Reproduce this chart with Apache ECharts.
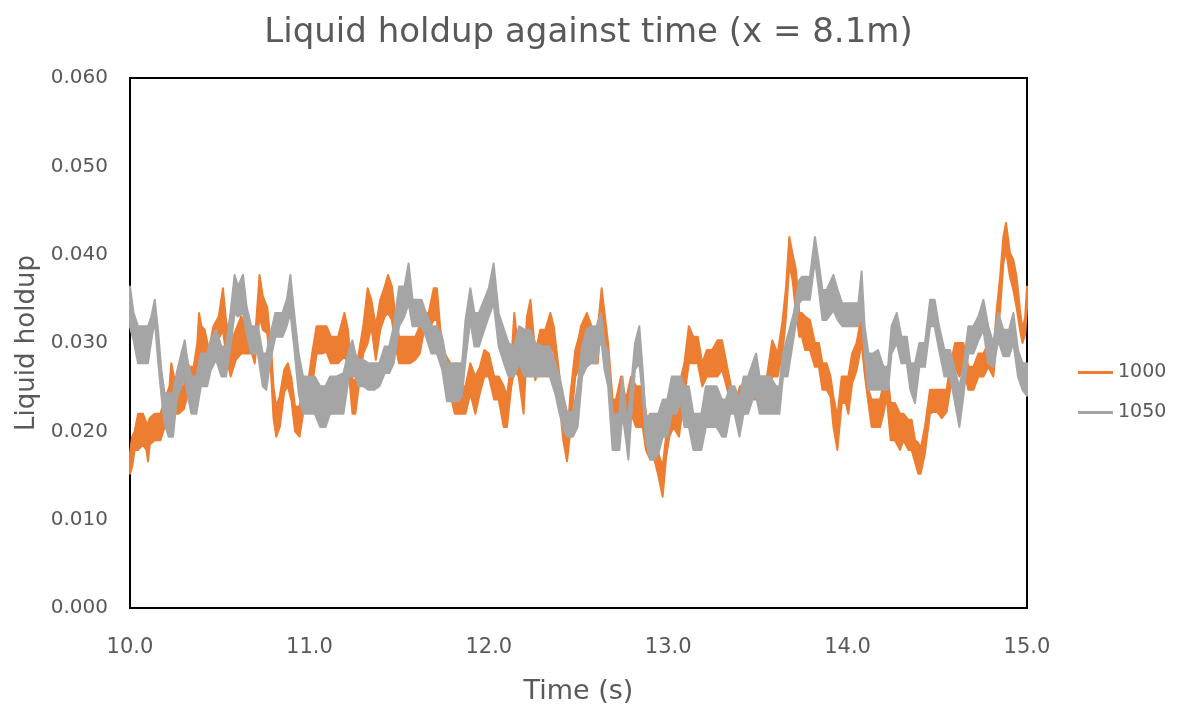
<!DOCTYPE html>
<html>
<head>
<meta charset="utf-8">
<script src="https://cdn.jsdelivr.net/npm/echarts@6/dist/echarts.min.js"></script>
<style>html,body{margin:0;padding:0;background:#fff}#c{width:1177px;height:711px}</style>
</head>
<body>
<div id="c"></div>
<script>
const chartTitle = 'Liquid holdup against time (x = 8.1m)';
const xName = 'Time (s)';
const yName = 'Liquid holdup';
const seriesNames = ['1000', '1050'];
const seriesColors = ['#ED7D31', '#A5A5A5'];

// [time (s), upper edge of the jitter band, lower edge of the jitter band]
const series1000 = [
[10.000,0.0175,0.0152],[10.012,0.0194,0.0160],[10.026,0.0200,0.0179],[10.045,0.0220,0.0179],
[10.072,0.0220,0.0185],[10.092,0.0209,0.0179],[10.100,0.0209,0.0166],[10.110,0.0215,0.0185],
[10.138,0.0220,0.0190],[10.170,0.0220,0.0190],[10.193,0.0236,0.0205],[10.220,0.0251,0.0220],
[10.230,0.0277,0.0228],[10.249,0.0258,0.0220],[10.270,0.0251,0.0220],[10.300,0.0251,0.0225],
[10.330,0.0273,0.0247],[10.355,0.0273,0.0250],[10.375,0.0300,0.0270],[10.385,0.0334,0.0277],
[10.398,0.0319,0.0288],[10.416,0.0315,0.0288],[10.440,0.0292,0.0262],[10.465,0.0319,0.0288],
[10.495,0.0330,0.0305],[10.518,0.0362,0.0315],[10.535,0.0326,0.0288],[10.561,0.0300,0.0262],
[10.590,0.0315,0.0281],[10.620,0.0330,0.0288],[10.650,0.0315,0.0288],[10.680,0.0315,0.0288],
[10.695,0.0300,0.0277],[10.722,0.0377,0.0330],[10.740,0.0353,0.0315],[10.765,0.0340,0.0311],
[10.785,0.0300,0.0270],[10.800,0.0250,0.0215],[10.815,0.0228,0.0194],[10.835,0.0240,0.0205],
[10.860,0.0270,0.0245],[10.880,0.0277,0.0251],[10.900,0.0260,0.0235],[10.920,0.0228,0.0200],
[10.945,0.0228,0.0194],[10.965,0.0251,0.0220],[10.990,0.0251,0.0225],[11.015,0.0288,0.0251],
[11.040,0.0319,0.0288],[11.070,0.0319,0.0288],[11.095,0.0319,0.0290],[11.120,0.0307,0.0277],
[11.160,0.0307,0.0277],[11.195,0.0334,0.0285],[11.215,0.0315,0.0277],[11.240,0.0258,0.0220],
[11.256,0.0258,0.0220],[11.275,0.0288,0.0251],[11.300,0.0319,0.0288],[11.325,0.0362,0.0300],
[11.345,0.0349,0.0319],[11.370,0.0319,0.0281],[11.395,0.0349,0.0315],[11.420,0.0364,0.0330],
[11.438,0.0377,0.0334],[11.460,0.0364,0.0326],[11.480,0.0330,0.0296],[11.500,0.0307,0.0277],
[11.530,0.0307,0.0277],[11.560,0.0307,0.0277],[11.590,0.0307,0.0281],[11.615,0.0319,0.0288],
[11.640,0.0334,0.0315],[11.665,0.0334,0.0315],[11.693,0.0362,0.0326],[11.711,0.0362,0.0326],
[11.730,0.0315,0.0281],[11.755,0.0288,0.0260],[11.785,0.0277,0.0243],[11.810,0.0251,0.0220],
[11.840,0.0251,0.0220],[11.870,0.0251,0.0220],[11.897,0.0277,0.0243],[11.925,0.0262,0.0220],
[11.950,0.0273,0.0243],[11.975,0.0292,0.0262],[12.000,0.0288,0.0262],[12.030,0.0262,0.0236],
[12.055,0.0262,0.0236],[12.083,0.0251,0.0205],[12.101,0.0240,0.0205],[12.125,0.0277,0.0250],
[12.142,0.0334,0.0270],[12.166,0.0288,0.0262],[12.194,0.0270,0.0220],[12.213,0.0330,0.0300],
[12.232,0.0349,0.0319],[12.259,0.0288,0.0258],[12.287,0.0315,0.0277],[12.315,0.0315,0.0277],
[12.343,0.0334,0.0290],[12.362,0.0319,0.0292],[12.390,0.0270,0.0240],[12.415,0.0220,0.0190],
[12.436,0.0190,0.0166],[12.454,0.0240,0.0200],[12.482,0.0292,0.0262],[12.500,0.0305,0.0270],
[12.514,0.0319,0.0262],[12.547,0.0334,0.0307],[12.579,0.0315,0.0277],[12.607,0.0315,0.0277],
[12.629,0.0362,0.0334],[12.645,0.0334,0.0315],[12.665,0.0300,0.0260],[12.690,0.0236,0.0220],
[12.709,0.0236,0.0220],[12.737,0.0262,0.0220],[12.765,0.0236,0.0209],[12.793,0.0262,0.0220],
[12.821,0.0251,0.0205],[12.858,0.0251,0.0205],[12.876,0.0220,0.0179],[12.900,0.0205,0.0168],
[12.923,0.0205,0.0168],[12.945,0.0175,0.0150],[12.969,0.0160,0.0126],[12.988,0.0194,0.0170],
[13.006,0.0220,0.0194],[13.030,0.0236,0.0205],[13.060,0.0251,0.0194],[13.090,0.0277,0.0240],
[13.115,0.0319,0.0277],[13.140,0.0307,0.0277],[13.165,0.0307,0.0277],[13.190,0.0277,0.0251],
[13.215,0.0292,0.0262],[13.245,0.0292,0.0262],[13.275,0.0303,0.0262],[13.300,0.0303,0.0270],
[13.325,0.0277,0.0251],[13.350,0.0251,0.0230],[13.378,0.0236,0.0220],[13.400,0.0251,0.0220],
[13.430,0.0251,0.0220],[13.460,0.0251,0.0236],[13.490,0.0251,0.0236],[13.520,0.0262,0.0236],
[13.550,0.0262,0.0236],[13.580,0.0303,0.0262],[13.610,0.0288,0.0262],[13.638,0.0326,0.0290],
[13.657,0.0364,0.0330],[13.675,0.0420,0.0390],[13.694,0.0400,0.0370],[13.712,0.0383,0.0334],
[13.731,0.0334,0.0307],[13.745,0.0334,0.0307],[13.763,0.0330,0.0292],[13.790,0.0326,0.0292],
[13.818,0.0300,0.0273],[13.840,0.0300,0.0273],[13.860,0.0277,0.0247],[13.883,0.0277,0.0247],
[13.905,0.0262,0.0239],[13.921,0.0239,0.0205],[13.943,0.0217,0.0179],[13.967,0.0262,0.0232],
[13.990,0.0262,0.0232],[14.004,0.0262,0.0220],[14.025,0.0288,0.0254],[14.050,0.0300,0.0269],
[14.078,0.0330,0.0300],[14.097,0.0292,0.0262],[14.116,0.0247,0.0232],[14.134,0.0236,0.0205],
[14.162,0.0236,0.0205],[14.181,0.0236,0.0205],[14.200,0.0254,0.0220],[14.218,0.0273,0.0239],
[14.240,0.0232,0.0190],[14.264,0.0232,0.0190],[14.292,0.0220,0.0179],[14.311,0.0220,0.0190],
[14.339,0.0213,0.0179],[14.357,0.0213,0.0179],[14.376,0.0190,0.0165],[14.394,0.0187,0.0152],
[14.407,0.0180,0.0152],[14.431,0.0205,0.0175],[14.459,0.0247,0.0220],[14.478,0.0247,0.0222],
[14.500,0.0247,0.0222],[14.525,0.0247,0.0215],[14.552,0.0247,0.0222],[14.571,0.0273,0.0247],
[14.599,0.0300,0.0273],[14.623,0.0300,0.0262],[14.645,0.0300,0.0273],[14.673,0.0273,0.0247],
[14.701,0.0273,0.0247],[14.729,0.0288,0.0262],[14.757,0.0288,0.0262],[14.784,0.0300,0.0273],
[14.812,0.0288,0.0262],[14.831,0.0337,0.0300],[14.850,0.0375,0.0337],[14.868,0.0420,0.0390],
[14.883,0.0436,0.0405],[14.905,0.0402,0.0375],[14.924,0.0394,0.0360],[14.942,0.0375,0.0340],
[14.961,0.0337,0.0315],[14.975,0.0315,0.0300],[14.990,0.0330,0.0310],[15.000,0.0364,0.0340]
];

const series1050 = [
[10.000,0.0364,0.0318],[10.020,0.0334,0.0303],[10.045,0.0319,0.0277],[10.072,0.0319,0.0277],
[10.100,0.0319,0.0277],[10.119,0.0330,0.0303],[10.138,0.0349,0.0326],[10.156,0.0315,0.0281],
[10.175,0.0269,0.0240],[10.193,0.0243,0.0209],[10.215,0.0243,0.0194],[10.240,0.0243,0.0194],
[10.260,0.0266,0.0236],[10.286,0.0288,0.0251],[10.305,0.0303,0.0260],[10.320,0.0281,0.0243],
[10.342,0.0262,0.0220],[10.370,0.0262,0.0220],[10.395,0.0288,0.0251],[10.430,0.0288,0.0251],
[10.450,0.0303,0.0269],[10.480,0.0315,0.0281],[10.510,0.0296,0.0262],[10.535,0.0296,0.0262],
[10.560,0.0334,0.0296],[10.583,0.0377,0.0334],[10.602,0.0364,0.0330],[10.630,0.0377,0.0334],
[10.650,0.0341,0.0311],[10.676,0.0319,0.0288],[10.713,0.0319,0.0288],[10.740,0.0288,0.0251],
[10.760,0.0288,0.0247],[10.780,0.0307,0.0277],[10.810,0.0334,0.0307],[10.850,0.0334,0.0307],
[10.875,0.0350,0.0320],[10.894,0.0377,0.0334],[10.915,0.0334,0.0296],[10.940,0.0288,0.0243],
[10.965,0.0262,0.0220],[11.000,0.0262,0.0220],[11.030,0.0262,0.0220],[11.060,0.0251,0.0205],
[11.090,0.0251,0.0205],[11.115,0.0262,0.0220],[11.150,0.0262,0.0220],[11.190,0.0266,0.0220],
[11.220,0.0292,0.0262],[11.240,0.0303,0.0262],[11.256,0.0288,0.0262],[11.275,0.0281,0.0251],
[11.300,0.0281,0.0251],[11.330,0.0277,0.0247],[11.360,0.0277,0.0247],[11.390,0.0277,0.0251],
[11.420,0.0296,0.0266],[11.445,0.0296,0.0266],[11.470,0.0319,0.0277],[11.500,0.0364,0.0319],
[11.530,0.0364,0.0330],[11.553,0.0390,0.0345],[11.575,0.0349,0.0319],[11.600,0.0349,0.0319],
[11.625,0.0349,0.0319],[11.650,0.0334,0.0307],[11.680,0.0319,0.0288],[11.711,0.0319,0.0288],
[11.740,0.0307,0.0270],[11.767,0.0277,0.0234],[11.800,0.0277,0.0234],[11.830,0.0277,0.0234],
[11.851,0.0277,0.0240],[11.870,0.0326,0.0281],[11.897,0.0362,0.0326],[11.920,0.0334,0.0296],
[11.945,0.0334,0.0296],[11.975,0.0349,0.0315],[12.000,0.0362,0.0330],[12.027,0.0390,0.0345],
[12.055,0.0334,0.0296],[12.085,0.0315,0.0277],[12.110,0.0300,0.0262],[12.140,0.0296,0.0262],
[12.170,0.0319,0.0277],[12.200,0.0315,0.0262],[12.230,0.0315,0.0262],[12.260,0.0300,0.0262],
[12.300,0.0296,0.0262],[12.340,0.0296,0.0262],[12.370,0.0277,0.0243],[12.395,0.0262,0.0220],
[12.420,0.0236,0.0200],[12.436,0.0222,0.0194],[12.470,0.0222,0.0194],[12.495,0.0251,0.0205],
[12.520,0.0296,0.0262],[12.545,0.0315,0.0273],[12.570,0.0319,0.0277],[12.600,0.0319,0.0277],
[12.625,0.0334,0.0307],[12.645,0.0300,0.0270],[12.665,0.0288,0.0251],[12.690,0.0220,0.0179],
[12.709,0.0220,0.0179],[12.728,0.0220,0.0179],[12.745,0.0262,0.0220],[12.765,0.0220,0.0190],
[12.778,0.0220,0.0168],[12.793,0.0251,0.0213],[12.815,0.0300,0.0270],[12.839,0.0319,0.0277],
[12.858,0.0269,0.0240],[12.876,0.0213,0.0190],[12.900,0.0220,0.0168],[12.923,0.0220,0.0168],
[12.945,0.0220,0.0175],[12.970,0.0236,0.0194],[12.995,0.0236,0.0194],[13.020,0.0262,0.0220],
[13.045,0.0262,0.0220],[13.070,0.0262,0.0234],[13.090,0.0251,0.0205],[13.115,0.0251,0.0205],
[13.140,0.0220,0.0179],[13.165,0.0220,0.0179],[13.185,0.0220,0.0179],[13.210,0.0251,0.0205],
[13.240,0.0251,0.0205],[13.270,0.0251,0.0205],[13.300,0.0236,0.0194],[13.322,0.0236,0.0194],
[13.345,0.0251,0.0220],[13.370,0.0251,0.0220],[13.397,0.0236,0.0194],[13.420,0.0262,0.0220],
[13.445,0.0262,0.0220],[13.470,0.0277,0.0236],[13.490,0.0288,0.0240],[13.510,0.0262,0.0220],
[13.540,0.0262,0.0220],[13.570,0.0262,0.0220],[13.600,0.0251,0.0220],[13.620,0.0251,0.0220],
[13.640,0.0288,0.0262],[13.665,0.0307,0.0262],[13.700,0.0334,0.0307],[13.730,0.0371,0.0345],
[13.745,0.0375,0.0349],[13.770,0.0375,0.0349],[13.790,0.0375,0.0349],[13.818,0.0420,0.0394],
[13.837,0.0394,0.0364],[13.860,0.0360,0.0326],[13.883,0.0360,0.0326],[13.921,0.0377,0.0337],
[13.945,0.0360,0.0326],[13.970,0.0345,0.0319],[14.000,0.0345,0.0319],[14.030,0.0345,0.0319],
[14.060,0.0345,0.0319],[14.078,0.0381,0.0330],[14.095,0.0319,0.0288],[14.116,0.0288,0.0247],
[14.140,0.0288,0.0247],[14.170,0.0292,0.0247],[14.200,0.0273,0.0247],[14.225,0.0273,0.0247],
[14.245,0.0319,0.0288],[14.274,0.0334,0.0300],[14.300,0.0307,0.0277],[14.330,0.0307,0.0277],
[14.350,0.0277,0.0247],[14.376,0.0277,0.0232],[14.400,0.0300,0.0273],[14.431,0.0300,0.0273],
[14.460,0.0349,0.0319],[14.485,0.0349,0.0319],[14.510,0.0319,0.0292],[14.540,0.0292,0.0262],
[14.571,0.0292,0.0262],[14.599,0.0269,0.0232],[14.623,0.0250,0.0205],[14.645,0.0273,0.0239],
[14.673,0.0319,0.0288],[14.701,0.0319,0.0288],[14.729,0.0330,0.0303],[14.757,0.0349,0.0315],
[14.784,0.0319,0.0277],[14.812,0.0300,0.0273],[14.840,0.0334,0.0303],[14.868,0.0315,0.0285],
[14.900,0.0315,0.0285],[14.924,0.0334,0.0300],[14.950,0.0292,0.0262],[14.975,0.0277,0.0247],
[15.000,0.0277,0.0240]
];

const allSeries = [series1000, series1050];
const FONT = 'DejaVu Sans';
const TXT = '#595959';

function bandSeries(name, data, color, z) {
  return {
    type: 'custom',
    name: name,
    coordinateSystem: 'cartesian2d',
    z: z,
    silent: true,
    animation: false,
    itemStyle: { color: color },
    data: [[data[0][0], data[0][1]]],
    encode: { x: 0, y: 1 },
    renderItem: function (params, api) {
      const top = data.map(function (d) { return api.coord([d[0], d[1]]); });
      const bot = data.slice().reverse().map(function (d) { return api.coord([d[0], d[2]]); });
      return {
        type: 'polygon',
        shape: { points: top.concat(bot) },
        style: { fill: color, stroke: color, lineWidth: 2, lineJoin: 'round' }
      };
    }
  };
}

const series = [];
seriesNames.forEach(function (n, i) {
  series.push({ type: 'line', name: n, data: [], symbol: 'none', showSymbol: false, color: seriesColors[i],
    lineStyle: { width: 2.5, color: seriesColors[i] } });
});
seriesNames.forEach(function (n, i) {
  series.push(bandSeries(n, allSeries[i], seriesColors[i], 2 + i));
});

const chart = echarts.init(document.getElementById('c'), null, { renderer: 'canvas' });
chart.setOption({
  backgroundColor: '#ffffff',
  animation: false,
  textStyle: { fontFamily: FONT },
  title: {
    text: chartTitle, left: 'center', top: 11,
    textStyle: { fontFamily: FONT, fontSize: 34, fontWeight: 'normal', color: TXT }
  },
  legend: {
    orient: 'vertical', left: 1078, top: 363, itemWidth: 35, itemHeight: 3, itemGap: 21,
    padding: 0, icon: 'rect',
    data: seriesNames,
    textStyle: { fontFamily: FONT, fontSize: 19, color: TXT }
  },
  grid: { left: 130, right: 150, top: 78, bottom: 103, show: true, borderColor: '#000', borderWidth: 2, containLabel: false },
  xAxis: {
    type: 'value', min: 10, max: 15, interval: 1,
    name: xName, nameLocation: 'middle', nameGap: 70,
    nameTextStyle: { fontFamily: FONT, fontSize: 27, color: TXT },
    axisLine: { show: false }, axisTick: { show: false }, splitLine: { show: false },
    axisLabel: { fontFamily: FONT, fontSize: 21, color: TXT, margin: 29, formatter: function (v) { return v.toFixed(1); } }
  },
  yAxis: {
    type: 'value', min: 0, max: 0.06, interval: 0.01,
    name: yName, nameLocation: 'middle', nameGap: 84,
    nameTextStyle: { fontFamily: FONT, fontSize: 26, color: TXT },
    axisLine: { show: false }, axisTick: { show: false }, splitLine: { show: false },
    axisLabel: { fontFamily: FONT, fontSize: 20, color: TXT, margin: 22, formatter: function (v) { return v.toFixed(3); } }
  },
  series: series
});
</script>
</body>
</html>
